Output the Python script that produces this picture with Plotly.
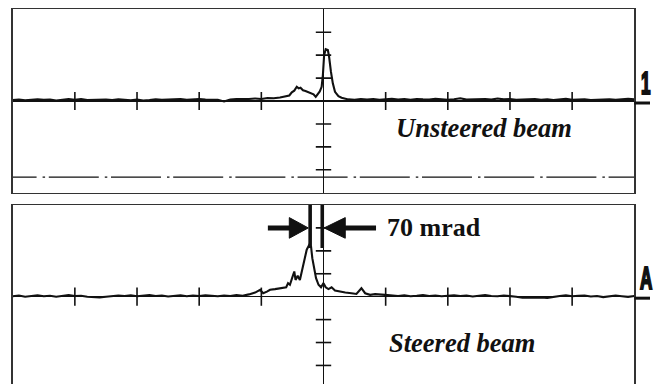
import numpy as np
import plotly.graph_objects as go

# ---------------- data (oscilloscope divisions) ----------------
# Unsteered beam trace
top_left_x = np.round(np.arange(-5.0, -0.55, 0.1), 2)
top_left_y = [0.04, 0.06, 0.03, 0.05, 0.07, 0.05, 0.06, 0.02, 0.04, 0.08,
              0.05, 0.09, 0.04, 0.05, 0.03, 0.06, 0.04, 0.07, 0.05, 0.03,
              0.06, 0.02, 0.04, 0.07, 0.05, 0.06, 0.04, 0.08, 0.05, 0.07,
              0.09, 0.06, 0.07, 0.05, -0.02, 0.06, 0.08, 0.07, 0.09, 0.11,
              0.09, 0.13, 0.12, 0.15, 0.19]
top_peak_x = [-0.55, -0.51, -0.47, -0.43, -0.40, -0.37, -0.33, -0.29, -0.25, -0.21,
              -0.16, -0.125, -0.09, -0.06, -0.03, -0.01, 0.01, 0.035, 0.07, 0.09,
              0.12, 0.15, 0.185, 0.24, 0.29]
top_peak_y = [0.24, 0.38, 0.45, 0.62, 0.55, 0.58, 0.47, 0.44, 0.40, 0.36,
              0.29, 0.18, 0.30, 0.42, 0.62, 1.13, 2.00, 2.26, 2.22, 1.93,
              1.27, 0.77, 0.40, 0.21, 0.14]
top_right_x = np.round(np.arange(0.4, 5.05, 0.1), 2)
top_right_y = [0.07, 0.05, 0.09, 0.06, 0.08, 0.05, 0.07, 0.10, 0.06, 0.08,
               0.05, 0.09, 0.07, 0.06, 0.10, 0.07, 0.05, 0.08, 0.12, 0.06,
               0.07, 0.05, 0.09, 0.06, 0.11, 0.07, 0.08, 0.05, 0.07, 0.06,
               0.09, 0.05, 0.07, 0.04, 0.06, 0.10, 0.05, 0.06, 0.07, 0.04,
               0.06, 0.05, 0.07, 0.05, 0.06, 0.10, 0.07]

# Steered beam trace
bot_left_x = np.round(np.arange(-5.0, -1.15, 0.1), 2)
bot_left_y = [0.02, 0.05, 0.00, 0.03, 0.06, 0.02, 0.04, 0.00, 0.05, 0.07,
              0.03, 0.04, 0.00, -0.03, -0.03, 0.00, 0.02, 0.05, 0.03, 0.06,
              0.02, 0.04, 0.07, 0.03, 0.05, 0.01, 0.04, 0.06, 0.02, 0.05,
              0.03, 0.06, 0.04, 0.02, 0.05, 0.03, 0.07, 0.04, 0.10]
bot_peak_x = [-1.10, -1.02, -0.97, -0.91, -0.86, -0.78, -0.70, -0.60, -0.57, -0.54,
              -0.50, -0.47, -0.45, -0.415, -0.38, -0.35, -0.31, -0.27, -0.23, -0.20,
              -0.18, -0.15, -0.12, -0.08, -0.04, 0.00, 0.035, 0.08, 0.13, 0.185,
              0.265, 0.35, 0.45, 0.53, 0.61, 0.67, 0.75, 0.83, 0.99]
bot_peak_y = [0.18, 0.30, 0.15, 0.22, 0.30, 0.33, 0.37, 0.41, 0.59, 0.52,
              0.85, 1.10, 0.73, 0.91, 0.73, 1.10, 1.54, 2.05, 2.26, 2.18,
              1.68, 1.16, 0.81, 0.52, 0.41, 0.59, 0.41, 0.33, 0.41, 0.27,
              0.22, 0.18, 0.15, 0.12, 0.37, 0.15, 0.08, 0.11, 0.08]
bot_right_x = np.round(np.arange(1.1, 5.05, 0.1), 2)
bot_right_y = [0.05, 0.03, 0.06, 0.02, 0.04, 0.07, 0.03, 0.05, 0.02, 0.04,
               0.06, 0.03, 0.05, 0.01, 0.04, 0.07, 0.03, 0.02, 0.05, 0.03,
               0.00, -0.05, -0.04, -0.06, -0.03, -0.05, 0.00, 0.03, 0.06, 0.02,
               0.04, 0.05, 0.01, 0.03, -0.02, 0.00, 0.05, 0.02, -0.01, 0.03]

# graticule tick positions (divisions)
x_ticks = [-4, -3, -2, -1, 1, 2, 3, 4]
y_ticks_top = [-3, -2, -1, 1, 2, 3]
y_ticks_bot = [-3, -2, -1, 1, 2, 3]

ref_level = -3.32             # dash-dot reference line in upper trace
fwhm_marks = [-0.215, -0.02]  # positions of the width markers (divisions)

labels = {"top": "Unsteered beam", "bot": "Steered beam", "width": "70 mrad"}
channel_labels = ["1", "A"]

# ---------------- layout geometry ----------------
W, H = 661, 384
xdom = [12.7 / W, 634.3 / W]
top_dom = [1 - 192.7 / H, 1 - 9.3 / H]
bot_dom = [0.0, 1 - 205 / H]
top_rng = [-4, 4]
bot_rng = [-3.81, 4]

INK = "#111111"
FRAME = "#333333"

fig = go.Figure()

def trace(xa, ya, xs, ys, **kw):
    fig.add_trace(go.Scatter(x=list(xs), y=list(ys), xaxis=xa, yaxis=ya,
                             mode="lines", hoverinfo="skip", **kw))

top_x = list(top_left_x) + top_peak_x + list(top_right_x)
top_y = top_left_y + top_peak_y + top_right_y
bot_x = list(bot_left_x) + bot_peak_x + list(bot_right_x)
bot_y = bot_left_y + bot_peak_y + bot_right_y

# dash-dot reference line (starts just off-screen to keep the phase)
trace("x", "y", [-5.42, 5.0], [ref_level, ref_level],
      line=dict(color=INK, width=1.4, dash="50px,6px,2.5px,3.7px"))

# graticule ticks on centre lines
for xa, ya, yt in (("x", "y", y_ticks_top), ("x2", "y2", y_ticks_bot)):
    fig.add_trace(go.Scatter(x=x_ticks, y=[0] * len(x_ticks), xaxis=xa, yaxis=ya,
                             mode="markers", hoverinfo="skip",
                             marker=dict(symbol="line-ns", size=13,
                                         line=dict(color=INK, width=1.6))))
    fig.add_trace(go.Scatter(x=[0] * len(yt), y=yt, xaxis=xa, yaxis=ya,
                             mode="markers", hoverinfo="skip",
                             marker=dict(symbol="line-ew", size=11,
                                         line=dict(color=INK, width=1.6))))

trace("x", "y", top_x, top_y, line=dict(color=INK, width=2.1))
trace("x2", "y2", bot_x, bot_y, line=dict(color=INK, width=2.1))

axis_common = dict(range=[-5, 5], showgrid=False, showticklabels=False, ticks="",
                   zeroline=True, zerolinecolor=INK, zerolinewidth=1.4, fixedrange=True)

fig.update_layout(
    width=W, height=H, margin=dict(l=0, r=0, t=0, b=0),
    paper_bgcolor="white", plot_bgcolor="white", showlegend=False,
    xaxis=dict(domain=xdom, anchor="y", showline=True, mirror=True,
               linecolor=FRAME, linewidth=1.5, **axis_common),
    yaxis=dict(domain=top_dom, anchor="x", range=top_rng, showgrid=False,
               showticklabels=False, ticks="", zeroline=True, zerolinecolor=INK,
               zerolinewidth=1.4, showline=True, mirror=True, linecolor=FRAME,
               linewidth=1.5, fixedrange=True),
    xaxis2=dict(domain=xdom, anchor="y2", side="top", showline=True, mirror=False,
                linecolor=FRAME, linewidth=1.5, **axis_common),
    yaxis2=dict(domain=bot_dom, anchor="x2", range=bot_rng, showgrid=False,
                showticklabels=False, ticks="", zeroline=True, zerolinecolor=INK,
                zerolinewidth=1.4, showline=True, mirror=True, linecolor=FRAME,
                linewidth=1.5, fixedrange=True),
)

# ---------------- width markers & arrows ----------------
shapes = []
bar_w = 3.6
for xm in fwhm_marks:
    shapes.append(dict(type="line", xref="x2", yref="y2", x0=xm, x1=xm, y0=2.12, y1=4,
                       line=dict(color=INK, width=bar_w), layer="above"))
ay = 3.0
# left arrow (pointing right)
shapes.append(dict(type="line", xref="x2", yref="y2", x0=-0.895, x1=-0.52, y0=ay, y1=ay,
                   line=dict(color=INK, width=5), layer="above"))
shapes.append(dict(type="path", xref="x2", yref="y2",
                   path=f"M {-0.55},{ay + 0.45} L {-0.245},{ay} L {-0.55},{ay - 0.45} Z",
                   fillcolor=INK, line=dict(color=INK, width=1), layer="above"))
# right arrow (pointing left)
shapes.append(dict(type="line", xref="x2", yref="y2", x0=0.33, x1=0.845, y0=ay, y1=ay,
                   line=dict(color=INK, width=5), layer="above"))
shapes.append(dict(type="path", xref="x2", yref="y2",
                   path=f"M {0.35},{ay + 0.45} L {0.01},{ay} L {0.35},{ay - 0.45} Z",
                   fillcolor=INK, line=dict(color=INK, width=1), layer="above"))

# channel markers at right edge
def paper_y(val, dom, rng):
    return dom[0] + (val - rng[0]) / (rng[1] - rng[0]) * (dom[1] - dom[0])

yb_top = paper_y(0, top_dom, top_rng) - 2 / H
yb_bot = paper_y(0, bot_dom, bot_rng) - 1.5 / H
for yb in (yb_top, yb_bot):
    shapes.append(dict(type="line", xref="paper", yref="paper", x0=634.3 / W, x1=650 / W,
                       y0=yb, y1=yb, line=dict(color=INK, width=3)))
fig.update_layout(shapes=shapes)

serif = "Liberation Serif, Times New Roman, serif"
sans = "Liberation Sans, Arial, sans-serif"
ann = [
    dict(text=f"<b><i>{labels['top']}</i></b>", xref="x", yref="y", x=1.13, y=-1.18,
         xanchor="left", yanchor="middle", showarrow=False,
         font=dict(family=serif, size=26.5, color=INK)),
    dict(text=f"<b><i>{labels['bot']}</i></b>", xref="x2", yref="y2", x=1.02, y=-2.02,
         xanchor="left", yanchor="middle", showarrow=False,
         font=dict(family=serif, size=26.5, color=INK)),
    dict(text=f"<b>{labels['width']}</b>", xref="x2", yref="y2", x=0.99, y=3.0,
         xanchor="left", yanchor="middle", showarrow=False,
         font=dict(family=serif, size=26, color=INK)),
    dict(text=f"<b>{channel_labels[0]}</b>", xref="paper", yref="paper", x=645 / W,
         y=yb_top, xanchor="center", yanchor="bottom", showarrow=False,
         font=dict(family=sans, size=31, color=INK)),
    dict(text=f"<b>{channel_labels[1]}</b>", xref="paper", yref="paper", x=645.5 / W,
         y=yb_bot, xanchor="center", yanchor="bottom", showarrow=False,
         font=dict(family=sans, size=31, color=INK)),
]
fig.update_layout(annotations=ann)

fig.write_html("out.html", config={"displayModeBar": False, "staticPlot": True})

# page tweaks: no body margin, and condensed oscilloscope-style channel labels
css = ("<style>html,body{margin:0;padding:0;overflow:hidden}"
       "g.annotation[data-index='3'] text, g.annotation[data-index='4'] text"
       "{transform-box:fill-box;transform-origin:center;transform:scaleX(0.55);"
       "stroke:#111111;stroke-width:2.2px}</style>")
with open("out.html", "r", encoding="utf-8") as f:
    html = f.read()
html = html.replace("<head>", "<head>" + css, 1)
with open("out.html", "w", encoding="utf-8") as f:
    f.write(html)
